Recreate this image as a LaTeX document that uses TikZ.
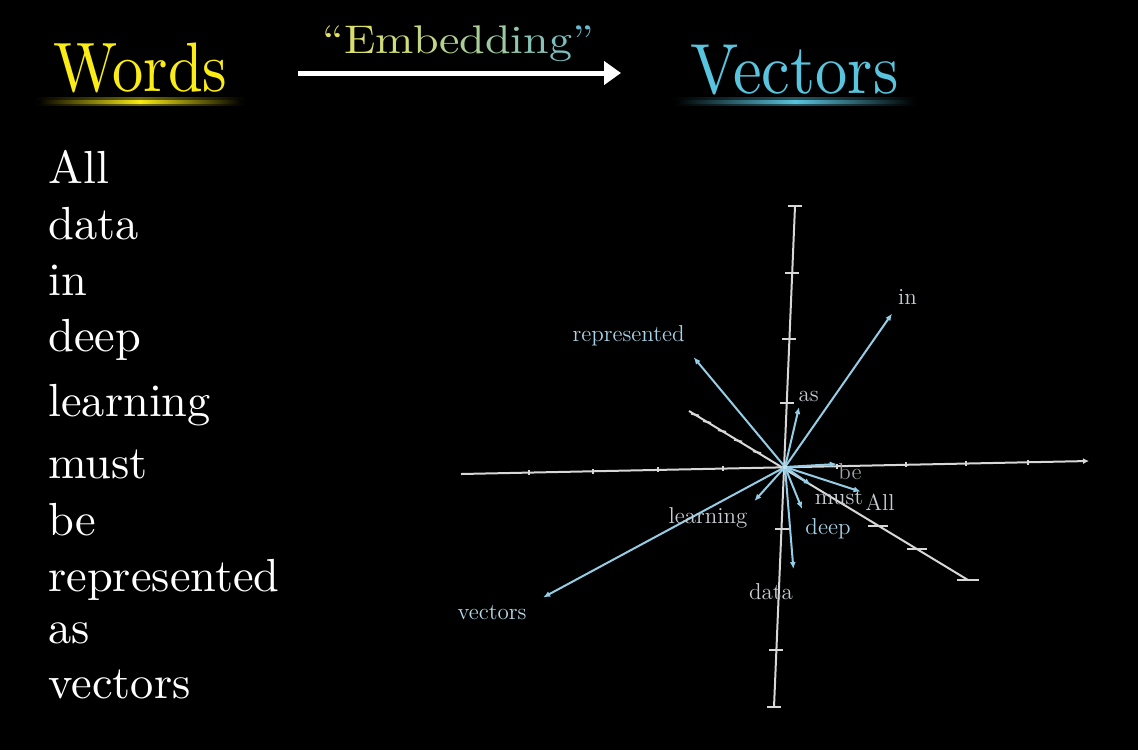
\documentclass[tikz,border=0pt]{standalone}
\usepackage{graphicx}
\usetikzlibrary{arrows.meta}
\definecolor{wyellow}{RGB}{250,236,20}
\definecolor{vblue}{RGB}{88,196,221}
\definecolor{vec}{RGB}{150,205,230}
\definecolor{axisc}{RGB}{215,215,215}
\definecolor{lblue}{RGB}{165,210,230}
\definecolor{lgrey}{RGB}{200,205,210}
\definecolor{ey}{RGB}{228,226,100}
\definecolor{eb}{RGB}{105,185,205}
\newcommand\embl[2]{\textcolor{eb!#1!ey}{#2}}
\newcommand\sbig[2]{\scalebox{#1}{\fontsize{10}{12}\selectfont #2}}
\begin{document}
\begin{tikzpicture}[x=0.5pt,y=-0.5pt,
  word/.style={anchor=base west, text=white, inner sep=0pt},
  head/.style={anchor=base west, inner sep=0pt},
  vlabel/.style={inner sep=0pt, font=\fontsize{11.5}{14}\selectfont},
  axisline/.style={draw=axisc, line width=1pt},
  tickmark/.style={draw=axisc, line width=1pt},
  vecarrow/.style={draw=vec, line width=1pt, -{Latex[length=3.5pt,width=3pt]}}]
\fill[black] (0,0) rectangle (1138,750);
\useasboundingbox (0,0) rectangle (1138,750);

% ---- header ----
\node[head, text=wyellow] (words) at (53,91) {\scalebox{3.12}[3.5]{\fontsize{10}{12}\selectfont Words}};
\node[head, text=vblue] (vectors) at (690,93) {\scalebox{3.22}[3.55]{\fontsize{10}{12}\selectfont Vectors}};
\shade[left color=black, right color=black, middle color=wyellow!45!black] (34,97.5) rectangle (246,105.5);
\shade[left color=black, right color=black, middle color=wyellow] (38,100) rectangle (242,103);
\shade[left color=black, right color=black, middle color=vblue!45!black] (672,97.5) rectangle (918,105.5);
\shade[left color=black, right color=black, middle color=vblue] (676,100) rectangle (914,103);

\coordinate (arrS) at (298,73);
\coordinate (arrE) at (621,73);
\draw[white, line width=2.5pt, -{Triangle[length=8.5pt,width=11.5pt]}] (arrS) -- (arrE);
\node[anchor=base west, inner sep=0pt] (emb) at (322,53)
  {\scalebox{2.3}[2.0]{\fontsize{10}{12}\selectfont\embl{0}{``}\embl{8}{E}\embl{18}{m}\embl{28}{b}\embl{38}{e}\embl{48}{d}\embl{58}{d}\embl{68}{i}\embl{76}{n}\embl{86}{g}\embl{100}{''}}};

% ---- word list ----
\node[word] (w1) at (48,183) {\sbig{2.32}{All}};
\node[word] (w2) at (48,239.5) {\sbig{2.32}{data}};
\node[word] (w3) at (48,295) {\sbig{2.32}{in}};
\node[word] (w4) at (48,351.5) {\sbig{2.32}{deep}};
\node[word] (w5) at (48,416.5) {\sbig{2.32}{learning}};
\node[word] (w6) at (48,478.5) {\sbig{2.32}{must}};
\node[word] (w7) at (48,535) {\sbig{2.32}{be}};
\node[word] (w8) at (48,591.5) {\sbig{2.32}{represented}};
\node[word] (w9) at (48,643.5) {\sbig{2.32}{as}};
\node[word] (w10) at (48,698.5) {\sbig{2.32}{vectors}};

% ---- axes ----
\coordinate (O) at (785,467);
\coordinate (vT) at (795,206);
\coordinate (vB) at (774,707);
\draw[axisline] (vT) -- (vB);
\foreach \x/\y in {795/206,792.2/273,789.4/339,786.7/403,781.5/529,776.4/650,774/707}
  \draw[tickmark] (\x-7,\y) -- (\x+7,\y);

\coordinate (hL) at (461,474);
\coordinate (hR) at (1089,461);
\draw[axisline, -{Latex[length=3pt,width=3pt]}] (hL) -- (hR);
\foreach \x/\y in {529/472.6,593/471.3,658/469.9,723/468.6,837/466.2,906/464.8,966/463.5,1028/462.3}
  \draw[tickmark] (\x,\y-2.5) -- (\x,\y+2.5);

\coordinate (dL) at (689,411);
\coordinate (dR) at (968,580);
\draw[axisline] (dL) -- (dR);
\foreach \x/\y in {695/414.6,707/421.9,722/431,738/440.7,757/452.2}
  \draw[tickmark] (\x-4,\y-1) -- (\x+4,\y+1);
\foreach \x/\y in {878/525.5,917/549}
  \draw[tickmark] (\x-10,\y) -- (\x+10,\y);
\draw[tickmark] (957,580) -- (979,580);

% ---- vectors ----
\coordinate (tIn) at (892,313.6);
\coordinate (tRep) at (693.7,357.3);
\coordinate (tAs) at (799,407);
\coordinate (tBe) at (836.8,464);
\coordinate (tAll) at (860.6,491.6);
\coordinate (tMust) at (810.8,484.8);
\coordinate (tDeep) at (802,508.9);
\coordinate (tLearn) at (754.4,501);
\coordinate (tData) at (793.4,569);
\coordinate (tVec) at (543.2,597.4);
\foreach \t in {tIn,tRep,tAs,tBe,tAll,tMust,tDeep,tLearn,tData,tVec}
  \draw[vecarrow] (O) -- (\t);
\fill[vec!60!white] (O) circle (2.2);

% ---- vector labels ----
\node[vlabel, text=lgrey] (lIn) at (907.5,297) {in};
\node[vlabel, text=lblue] (lRep) at (628.6,336) {represented};
\node[vlabel, text=lgrey] (lAs) at (808.6,396) {as};
\node[vlabel, text=lgrey!80!black] (lBe) at (850,471.5) {be};
\node[vlabel, text=lgrey] (lAll) at (880,502) {All};
\node[vlabel, text=lgrey] (lMust) at (839,498) {must};
\node[vlabel, text=lblue] (lDeep) at (828,529) {deep};
\node[vlabel, text=lgrey] (lLearn) at (708,517.5) {learning};
\node[vlabel, text=lgrey] (lData) at (771,592) {data};
\node[vlabel, text=lblue!85!white] (lVec) at (492,613) {vectors};
\end{tikzpicture}
\end{document}
